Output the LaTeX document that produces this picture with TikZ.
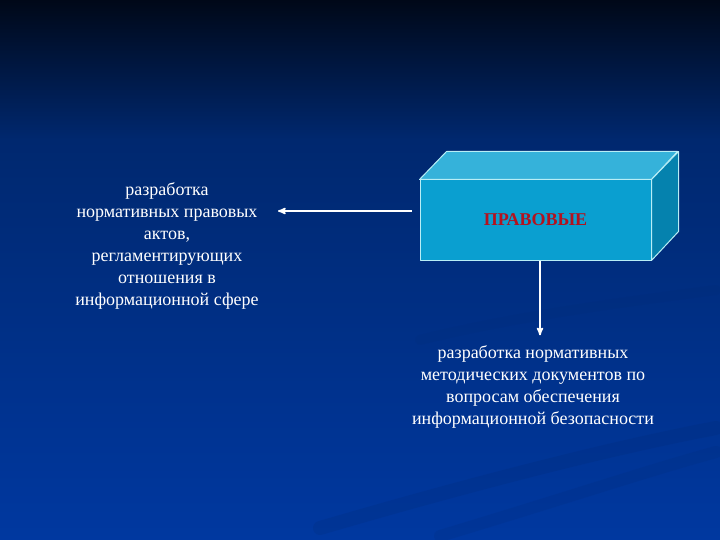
\documentclass[tikz,border=0pt]{standalone}
\usepackage{fontspec}
\setmainfont{Liberation Serif}
\usetikzlibrary{arrows,positioning}

\definecolor{bgtop}{HTML}{000818}
\definecolor{bgmid}{HTML}{00286F}
\definecolor{bgbot}{HTML}{0038A0}
\definecolor{boxfront}{HTML}{0A9FD0}
\definecolor{boxtop}{HTML}{35B2DA}
\definecolor{boxside}{HTML}{0582AE}
\definecolor{boxedge}{HTML}{B8EEF6}
\definecolor{boxtext}{HTML}{B3121E}

\begin{document}
\begin{tikzpicture}[x=1pt,y=-1pt,>=stealth',semithick]
    \tikzstyle{every node}=[font=\fontsize{18}{22}\selectfont]
    \tikzstyle{note}=[text=white,align=center,inner sep=0pt]
    \tikzstyle{face}=[draw=boxedge,line width=1pt,line join=round]
    \tikzstyle{arr}=[->,draw=white,line width=1.6pt]

    % background
    \useasboundingbox (0,0) rectangle (720,540);
    \shade[top color=bgtop,bottom color=bgmid] (0,0) rectangle (720,140);
    \shade[top color=bgmid,bottom color=bgbot] (0,140) rectangle (720,540);
    \draw[bgmid,opacity=0.18,line width=14pt,line cap=round]
        (320,528) .. controls (450,490) and (600,450) .. (716,428);
    \draw[bgmid,opacity=0.15,line width=12pt,line cap=round]
        (440,536) .. controls (560,500) and (650,470) .. (716,452);
    \draw[bgmid,opacity=0.12,line width=10pt,line cap=round]
        (420,340) .. controls (520,315) and (640,300) .. (716,290);

    % the box
    \node[face,fill=boxfront,minimum width=231pt,minimum height=80pt,
          text=boxtext,font=\fontsize{18}{22}\selectfont\bfseries] (prav) at (535.5,220) {ПРАВОВЫЕ};
    \path[face,fill=boxtop] (prav.north west) -- ++(27,-28) -- ++(231,0)
        -- (prav.north east) -- cycle;
    \path[face,fill=boxside] (prav.north east) -- ++(27,-28) -- ++(0,80)
        -- (prav.south east) -- cycle;

    % texts
    \node[note] (txtl) at (167,246) {разработка\\нормативных правовых\\актов,\\регламентирующих\\отношения в\\информационной сфере};
    \node[note] (txtb) at (533,387) {разработка нормативных\\методических документов по\\вопросам обеспечения\\информационной безопасности};

    % arrows
    \draw[arr,shorten <=8pt,shorten >=19pt] ([yshift=9pt]prav.west) -- ([yshift=9pt]prav.west -| txtl.east);
    \draw[arr,shorten >=10pt] ([xshift=4.5pt]prav.south) -- ([xshift=4.5pt]prav.south |- txtb.north);
\end{tikzpicture}
\end{document}
